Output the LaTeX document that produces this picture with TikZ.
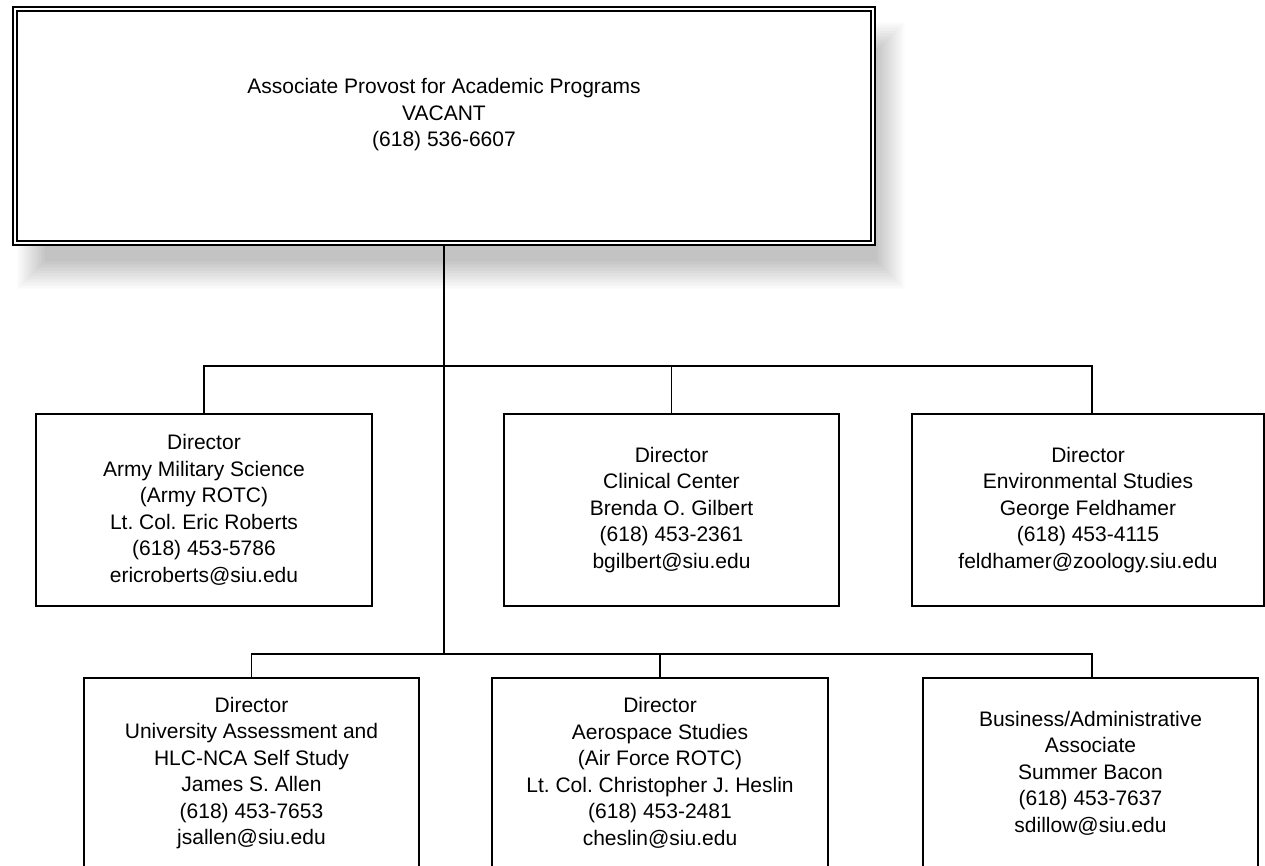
\documentclass[tikz,border=0pt]{standalone}
\usepackage{fontspec}
\setmainfont{Liberation Sans}
\frenchspacing
\begin{document}
\begin{tikzpicture}[x=1pt,y=-1pt,
  conn/.style={line width=1.9pt},
  txt/.style={align=center, inner sep=0pt, font=\fontsize{21}{26.5}\selectfont},
  orgbox/.style={txt, draw, line width=1.9pt, fill=white, minimum height=192pt},
  topbox/.style={draw, fill=white, line width=1.5pt, double, double distance=2.6pt, inner sep=0pt,
                 minimum width=858pt, minimum height=234pt}]
\useasboundingbox (0,0) rectangle (1265,866);
\clip (0,0) rectangle (1265,866);
\fill[white] (0,0) rectangle (1265,866);

% soft shadow of the top box
\foreach \k in {0,...,19}{
  \fill[black, opacity=0.012]
    ({30-(\k-10)*1.5},{36-(\k-10)*1.5}) rectangle ({891+(\k-10)*1.5},{276+(\k-10)*1.5});
}

% top box
\node[topbox] (top) at (444,126) {};
\node[txt] (toptext) at (444,115) {Associate Provost for Academic Programs\\VACANT\\(618) 536-6607};

% first row
\node[orgbox, minimum width=336pt] (A) at (204,510)
  {Director\\Army Military Science\\ (Army ROTC)\\Lt. Col. Eric Roberts\\(618) 453-5786\\ericroberts@siu.edu};
\node[orgbox, minimum width=335pt] (B) at (671.5,510)
  {Director\\Clinical Center\\Brenda O. Gilbert\\(618) 453-2361\\bgilbert@siu.edu};
\node[orgbox, minimum width=352pt] (C) at (1088,510)
  {Director\\Environmental Studies\\George Feldhamer\\(618) 453-4115\\feldhamer@zoology.siu.edu};

% second row
\node[orgbox, minimum width=335pt, minimum height=190pt] (D) at (251.5,773)
  {Director\\University Assessment and\\HLC-NCA Self Study\\James S. Allen\\(618) 453-7653\\jsallen@siu.edu};
\node[orgbox, minimum width=336pt, minimum height=190pt] (E) at (660,773)
  {Director\\Aerospace Studies\\(Air Force ROTC)\\Lt. Col. Christopher J. Heslin\\(618) 453-2481\\cheslin@siu.edu};
\node[orgbox, minimum width=335pt, minimum height=190pt] (F) at (1090.5,773)
  {Business/Administrative\\Associate\\Summer Bacon\\(618) 453-7637\\sdillow@siu.edu};

% connectors
\coordinate (j1) at (444,366);
\coordinate (j2) at (444,654);
\draw[conn] (top.south) -- (j2);
\draw[conn] (A.north) |- ([xshift=4pt]C.north |- j1) -- ([xshift=4pt]C.north);
\draw[conn] (B.north) -- (B.north |- j1);
\draw[conn] (D.north) |- ([xshift=1.5pt]F.north |- j2) -- ([xshift=1.5pt]F.north);
\draw[conn] (E.north) -- (E.north |- j2);
\end{tikzpicture}
\end{document}
